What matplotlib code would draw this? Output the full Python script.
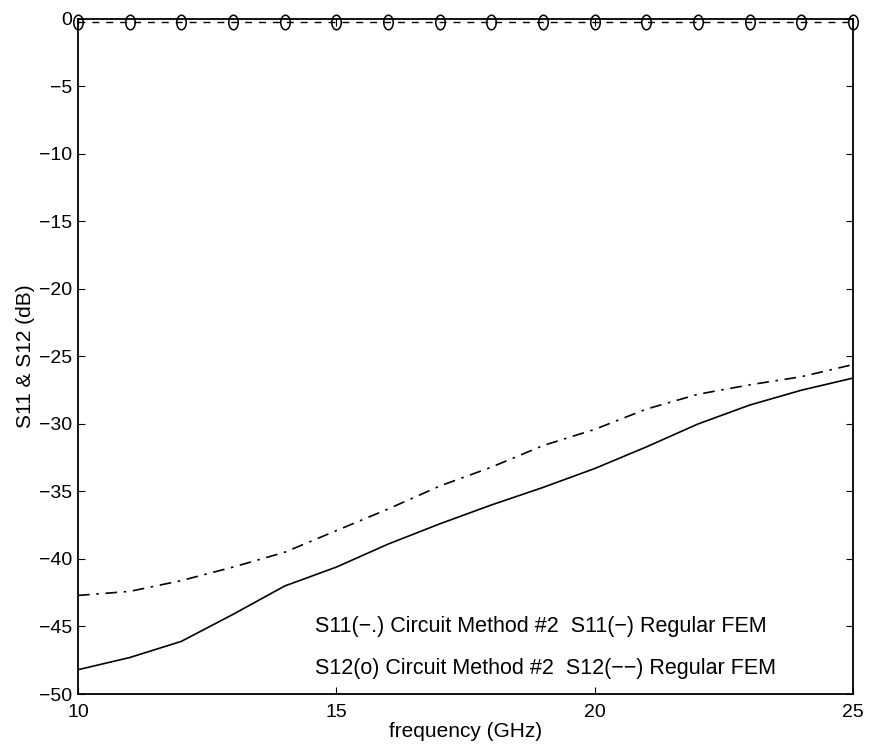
import numpy as np
import matplotlib
matplotlib.use("Agg")
import matplotlib.pyplot as plt
from matplotlib.path import Path
from matplotlib.transforms import Affine2D

# frequency points (GHz)
freq = [10, 11, 12, 13, 14, 15, 16, 17, 18, 19, 20, 21, 22, 23, 24, 25]

# S11 regular FEM (solid)
s11_fem = [-48.2, -47.3, -46.1, -44.1, -42.0, -40.6, -38.9, -37.4, -36.0,
           -34.7, -33.3, -31.7, -30.0, -28.6, -27.5, -26.6]
# S11 circuit method #2 (dash-dot)
s11_circ = [-42.7, -42.4, -41.6, -40.6, -39.5, -37.9, -36.3, -34.6, -33.2,
            -31.6, -30.4, -28.9, -27.8, -27.1, -26.5, -25.6]
# S12 circuit method #2 (circles) and regular FEM (dashed)
s12_circ = [-0.25, -0.25, -0.25, -0.25, -0.25, -0.25, -0.25, -0.25, -0.25,
            -0.25, -0.25, -0.25, -0.25, -0.25, -0.25, -0.25]
s12_fem = [-0.25, -0.25, -0.25, -0.25, -0.25, -0.25, -0.25, -0.25, -0.25,
           -0.25, -0.25, -0.25, -0.25, -0.25, -0.25, -0.25]

plt.rcParams['font.family'] = ['Liberation Sans', 'DejaVu Sans']

# narrow "o" like the scanned marker
circ = Path.unit_circle()
oval = Path(Affine2D().scale(0.65, 1.0).transform(circ.vertices), circ.codes)

fig = plt.figure(figsize=(8.7, 7.56), dpi=100)
ax = fig.add_axes([0.0897, 0.082, 0.8908, 0.893])

ax.plot(freq, s11_fem, color="k", lw=1.2, ls="-")
ax.plot(freq, s11_circ, color="k", lw=1.2, ls=(0, (7, 4, 1.5, 4)))
ax.plot(freq, s12_fem, color="k", lw=1.0, ls=(0, (5, 5)))
ax.plot(freq, s12_circ, color="k", lw=0, marker=oval, markersize=10.5,
        markerfacecolor="none", markeredgewidth=1.1, clip_on=False)

ax.set_xlim(10, 25)
ax.set_ylim(-50, 0)
ax.set_xticks([10, 15, 20, 25])
ax.set_yticks(np.arange(-50, 1, 5))
ax.tick_params(direction="in", top=True, right=True, labelsize=14, length=5)
ax.tick_params(axis="x", pad=7)
ax.tick_params(axis="y", pad=4)
for s in ax.spines.values():
    s.set_linewidth(1.3)

ax.set_xlabel("frequency (GHz)", fontsize=15, labelpad=1)
ax.set_ylabel("S11 & S12 (dB)", fontsize=15, labelpad=3)

ax.text(14.58, -45.0, "S11(\u2212.) Circuit Method #2  S11(\u2212) Regular FEM",
        fontsize=15.5, va="center", ha="left")
ax.text(14.58, -48.1, "S12(o) Circuit Method #2  S12(\u2212\u2212) Regular FEM",
        fontsize=15.5, va="center", ha="left")

plt.savefig("out.png", dpi=100)
